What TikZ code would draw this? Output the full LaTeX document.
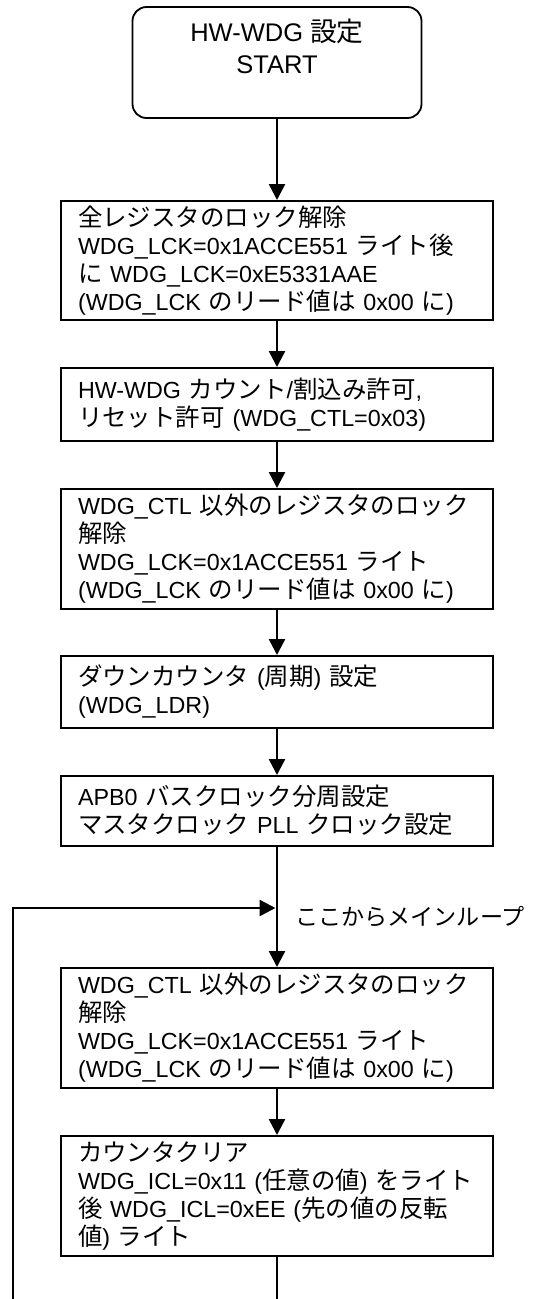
\documentclass[tikz,border=0pt]{standalone}
\usepackage{fontspec}
\setmainfont{Liberation Sans}
\newfontfamily\jpfont{Noto Sans CJK JP}[Scale=1.05]
\newcommand{\jp}[1]{{\jpfont #1}}
\newcommand{\wfont}{\fontsize{23.3}{28}\selectfont}
\usetikzlibrary{arrows.meta}
\tikzset{
  wstart/.style={draw,line width=1.8pt,rounded corners=14pt,minimum width=289pt,minimum height=111pt,align=center,font=\fontsize{25.5}{32}\selectfont,text depth=32pt},
  wbox/.style={draw,line width=1.5pt,anchor=north,minimum width=432pt,text width=398pt,inner xsep=17pt,inner ysep=0pt,align=left,font=\wfont},
  warr/.style={line width=2.5pt,-{Triangle[length=16pt,width=16pt]}},
  wline/.style={line width=2.5pt},
  wlab/.style={font=\fontsize{22}{28}\selectfont,inner sep=0pt,anchor=west},
}

\begin{document}
\begin{tikzpicture}[x=1pt,y=1pt]
\useasboundingbox (0,0) rectangle (533,-1299);
% ---- start
\node[wstart] (st) at (277,-62.5) {HW-WDG \jp{設定}\\START};
% ---- init steps
\node[wbox,minimum height=119pt] (b1) at (277,-200) {\jp{全レジスタのロック解除}\\WDG\_LCK=0x1ACCE551 \jp{ライト後}\\\jp{に} WDG\_LCK=0xE5331AAE\\(WDG\_LCK \jp{のリード値は} 0x00 \jp{に})};
\node[wbox,minimum height=73pt] (b2) at (277,-367) {HW-WDG \jp{カウント}/\jp{割込み許可},\\\jp{リセット許可} (WDG\_CTL=0x03)};
\node[wbox,minimum height=120pt] (b3) at (277,-488) {WDG\_CTL \jp{以外のレジスタのロック}\\\jp{解除}\\WDG\_LCK=0x1ACCE551 \jp{ライト}\\(WDG\_LCK \jp{のリード値は} 0x00 \jp{に})};
\node[wbox,minimum height=72pt] (b4) at (277,-655) {\jp{ダウンカウンタ} (\jp{周期}) \jp{設定}\\(WDG\_LDR)};
\node[wbox,minimum height=70pt] (b5) at (277,-775) {APB0 \jp{バスクロック分周設定}\\\jp{マスタクロック} PLL \jp{クロック設定}};
% ---- main loop
\node[wbox,minimum height=120pt] (b6) at (277,-967) {WDG\_CTL \jp{以外のレジスタのロック}\\\jp{解除}\\WDG\_LCK=0x1ACCE551 \jp{ライト}\\(WDG\_LCK \jp{のリード値は} 0x00 \jp{に})};
\node[wbox,minimum height=120pt] (b7) at (277,-1135) {\jp{カウンタクリア}\\WDG\_ICL=0x11 (\jp{任意の値}) \jp{をライト}\\\jp{後} WDG\_ICL=0xEE (\jp{先の値の反転}\\\jp{値}) \jp{ライト}};
\node[wlab] (lp) at (295,-917) {\jp{ここからメインループ}};
\coordinate (jn) at (277,-908);
\coordinate (ot) at (277,-1299);
\coordinate (bk) at (13,-1299);
% ---- connectors
\draw[warr] (st) -- (b1);
\draw[warr] (b1) -- (b2);
\draw[warr] (b2) -- (b3);
\draw[warr] (b3) -- (b4);
\draw[warr] (b4) -- (b5);
\draw[warr] (b5) -- (b6);
\draw[warr] (b6) -- (b7);
\draw[wline] (b7) -- (ot);
\draw[warr,shorten >=1.5pt] (bk) |- (jn);
\end{tikzpicture}
\end{document}
